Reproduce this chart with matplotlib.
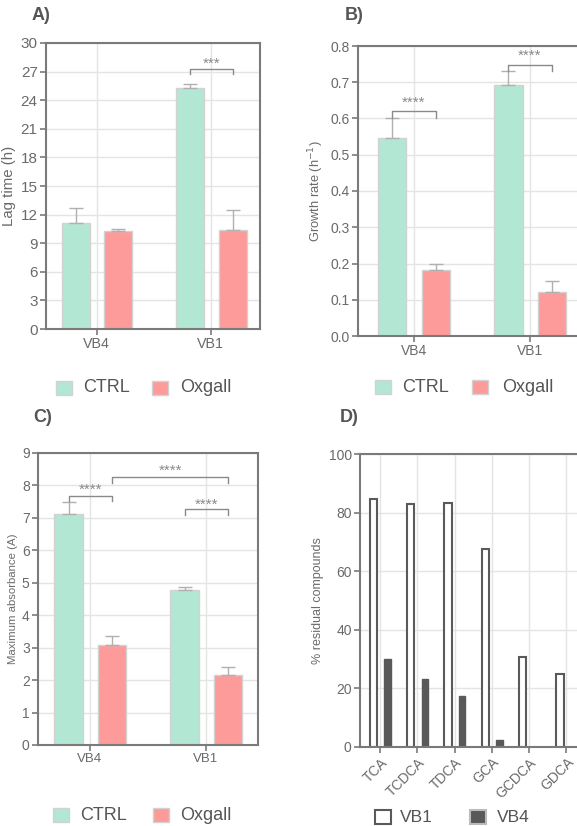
import matplotlib
matplotlib.use("Agg")
import matplotlib.pyplot as plt
import numpy as np

plt.rcParams['font.family'] = ['Liberation Sans', 'DejaVu Sans']

strains = ['VB4', 'VB1']
groups = ['CTRL', 'Oxgall']

lag_ctrl = [11.1, 25.3]
lag_ctrl_err = [1.6, 0.35]
lag_ox = [10.25, 10.4]
lag_ox_err = [0.2, 2.1]

rate_ctrl = [0.547, 0.693]
rate_ctrl_err = [0.053, 0.037]
rate_ox = [0.181, 0.122]
rate_ox_err = [0.018, 0.030]

abs_ctrl = [7.12, 4.78]
abs_ctrl_err = [0.37, 0.09]
abs_ox = [3.08, 2.16]
abs_ox_err = [0.28, 0.24]

compounds = ['TCA', 'TCDCA', 'TDCA', 'GCA', 'GCDCA', 'GDCA']
resid_vb1 = [84.7, 82.9, 83.2, 67.7, 30.8, 24.9]
resid_vb4 = [29.9, 23.3, 17.3, 2.3, 0.0, 0.0]

MINT = '#b2e8d3'
SALMON = '#fc9b99'
EDGE = '#d2d2d2'
SPINE = '#7a7a7a'
GRID = '#e4e4e4'
TXT = '#6a6a6a'

W, H = 577, 826
fig = plt.figure(figsize=(W / 100, H / 100), dpi=100)


def add_ax(left, top, right, bottom):
    return fig.add_axes([left / W, 1 - bottom / H, (right - left) / W, (bottom - top) / H])


def style(ax, fs):
    for s in ax.spines.values():
        s.set_color(SPINE)
        s.set_linewidth(1.5)
    ax.grid(True, color=GRID, lw=1)
    ax.set_axisbelow(True)
    ax.tick_params(colors=SPINE, labelcolor=TXT, labelsize=fs, length=4, width=1.2, pad=2)


def bar_panel(ax, ctrl, ctrl_err, ox, ox_err, ymax, step, xlim, fs, xfs):
    x = np.arange(len(strains))
    ax.bar(x - 0.185, ctrl, 0.245, color=MINT, edgecolor=EDGE, lw=1, zorder=2)
    ax.bar(x + 0.19, ox, 0.245, color=SALMON, edgecolor=EDGE, lw=1, zorder=2)
    ax.errorbar(x - 0.185, ctrl, yerr=[np.zeros(2), ctrl_err], fmt='none',
                ecolor='#b0b0b0', elinewidth=1, capsize=5, zorder=3)
    ax.errorbar(x + 0.19, ox, yerr=[np.zeros(2), ox_err], fmt='none',
                ecolor='#b0b0b0', elinewidth=1, capsize=5, zorder=3)
    ax.set_xlim(*xlim)
    ax.set_ylim(0, ymax)
    ax.set_yticks(np.arange(0, ymax + step / 2, step))
    ax.set_xticks(x)
    ax.set_xticklabels(strains)
    style(ax, fs)
    ax.tick_params(axis='x', labelsize=xfs)


def bracket(ax, x0, x1, y, drop, label, ty):
    ax.plot([x0, x0, x1, x1], [y - drop, y, y, y - drop], color='#8a8a8a', lw=1, zorder=4)
    ax.text((x0 + x1) / 2, ty, label, ha='center', va='center', color='#8a8a8a', fontsize=11)


def legend_fig(items, y, xs, fs):
    for (label, fc, ec), (px, tx) in zip(items, xs):
        fig.patches.append(plt.Rectangle((px / W, 1 - (y + 7) / H), 16 / W, 14 / H,
                                         transform=fig.transFigure, facecolor=fc,
                                         edgecolor=ec, lw=1.5 if ec != EDGE else 1))
        fig.text(tx / W, 1 - y / H, label, ha='left', va='center', fontsize=fs, color='#555555')


# A
axA = add_ax(46, 43, 260, 329)
bar_panel(axA, lag_ctrl, lag_ctrl_err, lag_ox, lag_ox_err, 30, 3, (-0.445, 1.43), 11, 10.3)
axA.set_ylabel('Lag time (h)', fontsize=10.8, color=TXT, labelpad=3)
bracket(axA, 0.815, 1.19, 27.3, 0.55, '***', 27.8)
fig.text(32 / W, 1 - 15 / H, 'A)', fontsize=13, fontweight='bold', color='#555555', va='center')
legend_fig([('CTRL', MINT, EDGE), ('Oxgall', SALMON, EDGE)], 388, [(56, 83), (152, 180)], 13)

# B
axB = add_ax(358, 46, 582, 336)
bar_panel(axB, rate_ctrl, rate_ctrl_err, rate_ox, rate_ox_err, 0.8, 0.1, (-0.48, 1.45), 10, 10)
axB.set_yticklabels([f'{v:.1f}' for v in np.arange(0, 0.85, 0.1)])
axB.set_ylabel('Growth rate (h$^{-1}$)', fontsize=9.3, color=TXT, labelpad=3)
bracket(axB, -0.19, 0.19, 0.62, 0.018, '****', 0.642)
bracket(axB, 0.81, 1.19, 0.748, 0.017, '****', 0.772)
fig.text(345 / W, 1 - 15 / H, 'B)', fontsize=13, fontweight='bold', color='#555555', va='center')
legend_fig([('CTRL', MINT, EDGE), ('Oxgall', SALMON, EDGE)], 387, [(375, 402), (472, 502)], 13)

# C
axC = add_ax(38, 453, 258, 745)
bar_panel(axC, abs_ctrl, abs_ctrl_err, abs_ox, abs_ox_err, 9, 1, (-0.448, 1.448), 10, 9.5)
axC.set_ylabel('Maximum absorbance (A)', fontsize=8.2, color=TXT, labelpad=3)
bracket(axC, -0.185, 0.19, 7.69, 0.18, '****', 7.86)
bracket(axC, 0.19, 1.19, 8.25, 0.18, '****', 8.45)
bracket(axC, 0.815, 1.19, 7.28, 0.19, '****', 7.40)
fig.text(33 / W, 1 - 417 / H, 'C)', fontsize=13, fontweight='bold', color='#555555', va='center')
legend_fig([('CTRL', MINT, EDGE), ('Oxgall', SALMON, EDGE)], 815, [(53, 80), (153, 180)], 13)

# D
axD = add_ax(360, 454, 587, 747)
xd = np.arange(len(compounds))
axD.bar(xd - 0.18, resid_vb1, 0.2, color='white', edgecolor='#5a5a5a', lw=1.5, zorder=2)
axD.bar(xd + 0.2, resid_vb4, 0.18, color='#595959', edgecolor='#595959', lw=1, zorder=2)
axD.set_xlim(-0.54, 5.55)
axD.set_ylim(0, 100)
axD.set_yticks(np.arange(0, 101, 20))
axD.set_xticks(xd)
axD.set_xticklabels(compounds, rotation=45, ha='right', rotation_mode='anchor')
style(axD, 10)
axD.tick_params(axis='x', labelsize=10)
axD.set_ylabel('% residual compounds', fontsize=9, color=TXT, labelpad=3)
fig.text(340 / W, 1 - 417 / H, 'D)', fontsize=13, fontweight='bold', color='#555555', va='center')
legend_fig([('VB1', 'white', '#5a5a5a'), ('VB4', '#595959', '#bbbbbb')], 817, [(375, 400), (470, 497)], 12.5)

fig.savefig('out.png', dpi=100)
